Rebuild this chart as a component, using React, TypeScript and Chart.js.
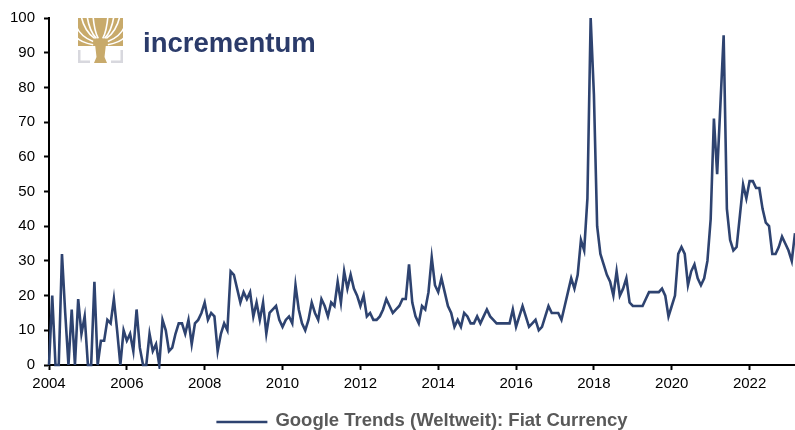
import React, { useEffect, useRef } from "react";
import { Chart, registerables } from "chart.js";

Chart.register(...registerables);

// Monthly Google Trends values, Jan 2004 .. Mar 2023
const START_YEAR = 2004;
const SERIES_LABEL = "Google Trends (Weltweit): Fiat Currency";
const VALUES_2004_2007 = [
  0, 20, 0, 0, 32, 15, 0, 16, 0, 19, 9, 14,
  0, 0, 24, 0, 7, 7, 13, 12, 19, 10, 0, 10,
  7, 9, 4, 16, 5, 0, 0, 9, 4, 6, 0, 13,
  10, 4, 5, 9, 12, 12, 9, 13, 6, 12, 13, 15,
];
const VALUES_2008_2011 = [
  18, 13, 15, 14, 4, 9, 12, 10, 27, 26, 22, 18,
  21, 19, 21, 14, 18, 13, 18, 9, 15, 16, 17, 13,
  11, 13, 14, 12, 23, 16, 12, 10, 13, 18, 15, 13,
  19, 17, 14, 18, 17, 24, 18, 27, 22, 26, 22, 20,
];
const VALUES_2012_2015 = [
  17, 20, 14, 15, 13, 13, 14, 16, 19, 17, 15, 16,
  17, 19, 19, 29, 18, 14, 12, 17, 16, 21, 31, 23,
  21, 25, 21, 17, 15, 11, 13, 11, 15, 14, 12, 12,
  14, 12, 14, 16, 14, 13, 12, 12, 12, 12, 12, 16,
];
const VALUES_2016_2019 = [
  11, 14, 17, 14, 11, 12, 13, 10, 11, 14, 17, 15,
  15, 15, 13, 17, 21, 25, 22, 26, 36, 33, 48, 100,
  78, 40, 32, 29, 26, 24, 20, 27, 20, 22, 25, 18,
  17, 17, 17, 17, 19, 21, 21, 21, 21, 22, 20, 14,
];
const VALUES_2020_2023 = [
  17, 20, 32, 34, 32, 23, 27, 29, 25, 23, 25, 30,
  42, 71, 55, 75, 95, 45, 36, 33, 34, 43, 52, 48,
  53, 53, 51, 51, 45, 41, 40, 32, 32, 34, 37, 35,
  33, 30, 38,
];
const VALUES = [
  ...VALUES_2004_2007,
  ...VALUES_2008_2011,
  ...VALUES_2012_2015,
  ...VALUES_2016_2019,
  ...VALUES_2020_2023,
];
const MONTH_INDEX = VALUES.map((_, i) => i); // months since Jan 2004
const YEAR_TICKS = [2004, 2006, 2008, 2010, 2012, 2014, 2016, 2018, 2020, 2022];
const Y_TICKS = [0, 10, 20, 30, 40, 50, 60, 70, 80, 90, 100];

const LINE_COLOR = "#2e4370";
const FONT_FAMILY = '"Liberation Sans", Arial, Helvetica, sans-serif';

const decorPlugin = {
  id: "decor",
  afterDraw(chart: any) {
    const ctx = chart.ctx as CanvasRenderingContext2D;
    const ca = chart.chartArea;

    // ---- legend ----
    ctx.save();
    ctx.font = `bold 18.5px ${FONT_FAMILY}`;
    const label = chart.data.datasets[0].label as string;
    const tw = ctx.measureText(label).width;
    const lineLen = 51;
    const gap = 8;
    const total = lineLen + gap + tw;
    const x0 = (ca.left + ca.right) / 2 - total / 2;
    const ly = 421;
    ctx.strokeStyle = LINE_COLOR;
    ctx.lineWidth = 2.5;
    ctx.beginPath();
    ctx.moveTo(x0, ly + 1);
    ctx.lineTo(x0 + lineLen, ly + 1);
    ctx.stroke();
    ctx.fillStyle = "#595959";
    ctx.textAlign = "left";
    ctx.textBaseline = "middle";
    ctx.fillText(label, x0 + lineLen + gap, ly);
    ctx.restore();

    // ---- logo ----
    ctx.save();
    const gold = "#c8aa6b";
    ctx.fillStyle = gold;
    ctx.fillRect(78, 18, 45, 28);
    // branch gaps
    ctx.strokeStyle = "#ffffff";
    ctx.lineWidth = 1.6;
    const bx = 100.5;
    const by = 48;
    const ends: [number, number][] = [
      [76, 26], [76, 37], [81, 16], [87, 16], [93, 16],
      [108, 16], [114, 16], [120, 16], [125, 26], [125, 37],
    ];
    for (const [ex, ey] of ends) {
      ctx.beginPath();
      ctx.moveTo(bx + (ex - bx) * 0.3, by - (by - ey) * 0.3);
      ctx.quadraticCurveTo(bx + (ex - bx) * 0.8, by - (by - ey) * 0.5, ex, ey);
      ctx.stroke();
    }
    // trunk
    ctx.fillStyle = gold;
    ctx.beginPath();
    ctx.moveTo(95, 44);
    ctx.lineTo(106, 44);
    ctx.lineTo(104.5, 57);
    ctx.lineTo(107, 63);
    ctx.lineTo(94, 63);
    ctx.lineTo(96.5, 57);
    ctx.closePath();
    ctx.fill();
    // grey brackets
    ctx.fillStyle = "#d8d8de";
    ctx.fillRect(78, 50, 2.5, 13);
    ctx.fillRect(78, 60.5, 12, 2.5);
    ctx.fillRect(120.5, 50, 2.5, 13);
    ctx.fillRect(111, 60.5, 12, 2.5);
    // wordmark
    ctx.fillStyle = "#2b3b6a";
    ctx.font = `bold 27.5px ${FONT_FAMILY}`;
    ctx.textAlign = "left";
    ctx.textBaseline = "alphabetic";
    ctx.fillText("incrementum", 143, 52);
    ctx.restore();
  },
};

export default function App() {
  const canvasRef = useRef<HTMLCanvasElement | null>(null);

  useEffect(() => {
    const canvas = canvasRef.current;
    if (!canvas) return;
    const axisFont = { family: FONT_FAMILY, size: 15 };
    const chart = new Chart(canvas, {
      type: "line",
      data: {
        datasets: [
          {
            label: SERIES_LABEL,
            data: VALUES.map((v, i) => ({ x: MONTH_INDEX[i], y: v })),
            borderColor: LINE_COLOR,
            backgroundColor: LINE_COLOR,
            borderWidth: 2.6,
            pointRadius: 0,
            tension: 0,
            fill: false,
            clip: 4,
          },
        ],
      },
      options: {
        responsive: false,
        animation: false,
        layout: { padding: { top: 18, right: 0, bottom: 0, left: 0 } },
        plugins: {
          legend: { display: false },
          tooltip: { enabled: false },
        },
        scales: {
          x: {
            type: "linear",
            min: 0,
            max: MONTH_INDEX[MONTH_INDEX.length - 1],
            afterBuildTicks: (s: any) => {
              s.ticks = YEAR_TICKS.map((y) => ({ value: (y - START_YEAR) * 12 }));
            },
            afterFit: (s: any) => {
              s.height = 65;
            },
            ticks: {
              callback: (v: any) => String(START_YEAR + Math.round(Number(v) / 12)),
              color: "#000",
              font: axisFont,
              padding: 5,
              maxRotation: 0,
              autoSkip: false,
            },
            grid: {
              drawOnChartArea: false,
              drawTicks: true,
              tickLength: 5,
              tickColor: "#000",
              tickWidth: 2,
            },
            border: { color: "#000", width: 2 },
          },
          y: {
            min: 0,
            max: 100,
            afterBuildTicks: (s: any) => {
              s.ticks = Y_TICKS.map((v) => ({ value: v }));
            },
            afterFit: (s: any) => {
              s.width = 49;
            },
            ticks: {
              color: "#000",
              font: axisFont,
              padding: 9,
            },
            grid: {
              drawOnChartArea: false,
              drawTicks: true,
              tickLength: 5,
              tickColor: "#000",
              tickWidth: 2,
            },
            border: { color: "#000", width: 2 },
          },
        },
      },
      plugins: [decorPlugin],
    } as any);
    return () => chart.destroy();
  }, []);

  return (
    <div style={{ position: "absolute", left: 0, top: 0, width: 795, height: 430, background: "#fff" }}>
      <canvas ref={canvasRef} width={795} height={430} style={{ display: "block" }} />
    </div>
  );
}
